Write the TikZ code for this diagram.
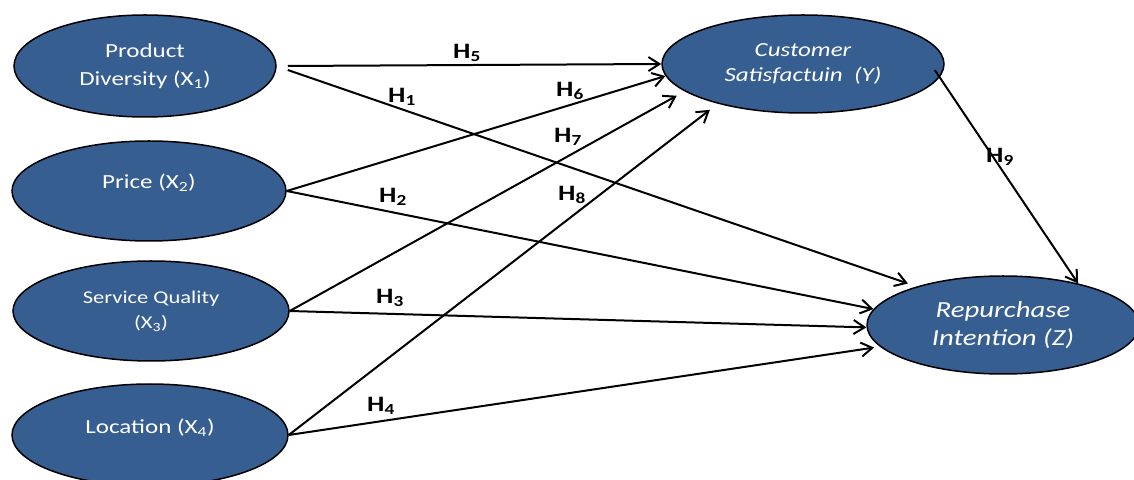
\documentclass[tikz,border=0pt]{standalone}
\usepackage{fontspec}
\setmainfont[FakeStretch=1.25]{Carlito}
\usetikzlibrary{shapes.geometric}
\usetikzlibrary{arrows.meta}

\definecolor{latent}{RGB}{54,94,145}

\tikzset{
  construct/.style={ellipse, draw=black, line width=1.5pt, fill=latent,
    text=white, inner sep=0pt, align=center},
  hyp/.style={-{Straight Barb[length=11pt,width=14pt]}, line width=2pt},
  hlabel/.style={font=\fontsize{22}{26}\selectfont\bfseries}
}

\begin{document}
\begin{tikzpicture}[x=1pt,y=1pt]

  \useasboundingbox (0,0) rectangle (1134,479);

  % exogenous constructs
  \node[construct, minimum width=262pt, minimum height=102pt,
    font=\fontsize{20}{28}\selectfont] (pd) at (145,413)
    {Product\\Diversity (X\textsubscript{1})};
  \node[construct, minimum width=274pt, minimum height=100pt,
    text depth=19pt, font=\fontsize{20}{28}\selectfont] (pr) at (149,288)
    {Price (X\textsubscript{2})};
  \node[construct, minimum width=276pt, minimum height=100pt,
    font=\fontsize{18}{25}\selectfont] (sq) at (151,168)
    {Service Quality\\(X\textsubscript{3})};
  \node[construct, minimum width=276pt, minimum height=102pt,
    text depth=17pt, font=\fontsize{20}{28}\selectfont] (loc) at (150,44)
    {Location (X\textsubscript{4})};

  % endogenous constructs
  \node[construct, minimum width=282pt, minimum height=98pt,
    font=\fontsize{20}{25}\selectfont\itshape] (cs) at (803,415)
    {Customer\\Satisfactuin\ \ (Y)};
  \node[construct, minimum width=272pt, minimum height=98pt,
    font=\fontsize{23}{28}\selectfont\itshape] (ri) at (1003,154)
    {Repurchase\\Intention (Z)};

  \draw[hyp] ([xshift=11pt]pd.east) -- (cs.180);
    \node[hlabel] (h5) at (467,426) {H\textsubscript{5}};
  \draw[hyp, shorten >=9pt] ([xshift=11pt,yshift=-4pt]pd.east) -- (ri.156);
    \node[hlabel] (h1) at (402,382) {H\textsubscript{1}};

  \draw[hyp] (pr.east) -- (cs.185);
    \node[hlabel] (h6) at (570,388) {H\textsubscript{6}};
  \draw[hyp] (pr.east) -- (ri.173);
    \node[hlabel] (h2) at (393,282) {H\textsubscript{2}};

  \draw[hyp, shorten >=9pt] (sq.east) -- (cs.193);
    \node[hlabel] (h7) at (568,342) {H\textsubscript{7}};
  \draw[hyp] (sq.east) -- (ri.181);
    \node[hlabel] (h3) at (390,181) {H\textsubscript{3}};

  \draw[hyp, shorten >=10pt] (loc.east) -- (cs.205);
    \node[hlabel] (h8) at (572,284) {H\textsubscript{8}};
  \draw[hyp, shorten >=6pt] (loc.east) -- (ri.190);
    \node[hlabel] (h4) at (381,73) {H\textsubscript{4}};

  \draw[hyp] ([xshift=-10pt,yshift=-6pt]cs.east) -- (ri.29);
    \node[hlabel] (h9) at (1000,322) {H\textsubscript{9}};

\end{tikzpicture}
\end{document}
